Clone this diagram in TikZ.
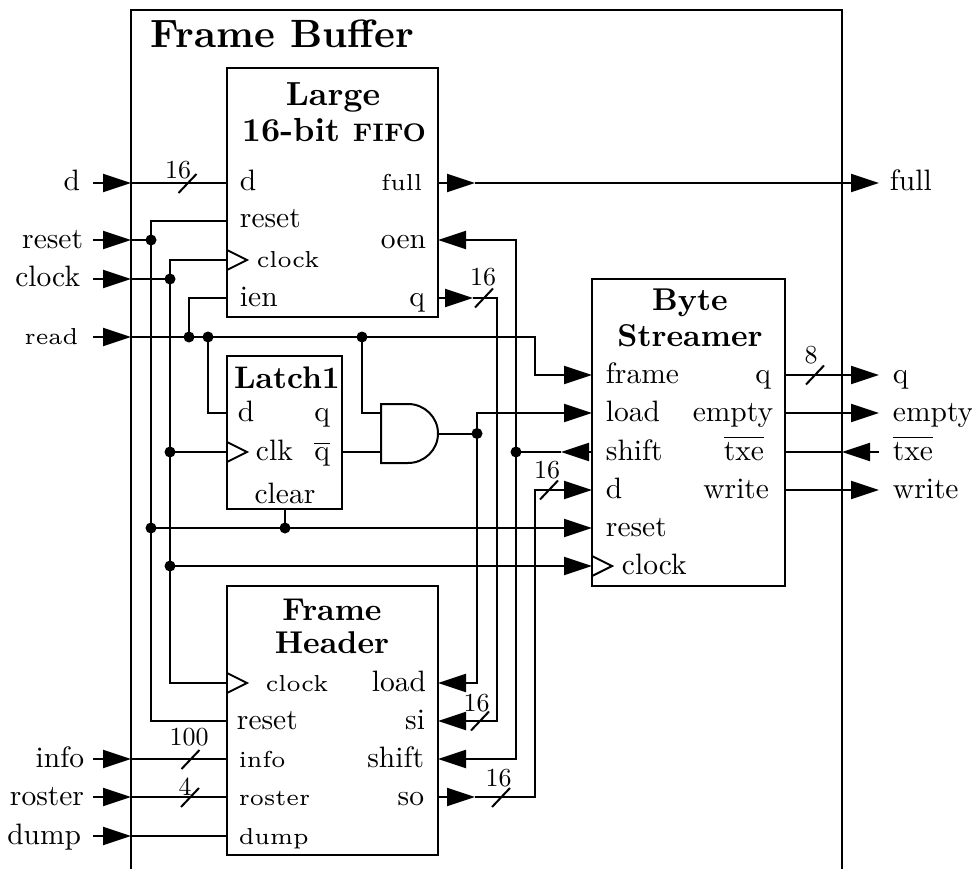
\documentclass[tikz,border=0pt]{standalone}
\usetikzlibrary{arrows.meta}
\begin{document}
\begin{tikzpicture}[x=1pt,y=-1pt,line width=2pt,
  >={Triangle[length=28pt,width=18pt]},
  lab/.style={inner sep=0,scale=2.95,font=\fontsize{10}{12}\selectfont},
  sml/.style={inner sep=0,scale=3.85,font=\fontsize{6}{7}\selectfont},
  ttl/.style={inner sep=0,scale=3.15,font=\fontsize{10}{12}\selectfont\bfseries},
  num/.style={inner sep=0,scale=2.6,font=\fontsize{10}{12}\selectfont},
  dot/.style={circle,fill,inner sep=0,minimum size=11pt},
  box/.style={draw,line width=2pt,inner sep=0}]
\useasboundingbox (0,0) rectangle (972,869);

% frame buffer boundary
\draw (131,869) -- (131,10) -- (842,10) -- (842,869);
\node[inner sep=0,scale=3.95,font=\fontsize{10}{12}\selectfont\bfseries,anchor=base west] (fbtitle) at (147,48) {Frame Buffer};

% blocks
\node[box,minimum width=211,minimum height=249] (fifo) at (332.5,192.5) {};
\node[box,minimum width=115,minimum height=153] (latch) at (284.5,432.5) {};
\node[box,minimum width=193,minimum height=307] (streamer) at (688.5,432.5) {};
\node[box,minimum width=211,minimum height=269] (header) at (332.5,720.5) {};

% titles
\node[ttl,scale=1.06,anchor=base] (t1) at (333,106) {Large};
\node[ttl,scale=1.06,anchor=base] (t2) at (334,142) {16-bit {\fontsize{7.6}{9}\selectfont FIFO}};
\node[ttl,scale=0.99,anchor=base] (t3) at (287,388) {Latch1};
\node[ttl,anchor=base] (t4) at (690,310) {Byte};
\node[ttl,anchor=base] (t5) at (690,346) {Streamer};
\node[ttl,anchor=base] (t6) at (332,620) {Frame};
\node[ttl,anchor=base] (t7) at (332,653) {Header};

% pins
\coordinate (fifo-d) at (227,183);
\coordinate (fifo-reset) at (227,221);
\coordinate (fifo-clock) at (227,260);
\coordinate (fifo-ien) at (227,298);
\coordinate (fifo-full) at (438,183);
\coordinate (fifo-oen) at (438,240);
\coordinate (fifo-q) at (438,298);
\coordinate (latch-d) at (227,413);
\coordinate (latch-clk) at (227,452);
\coordinate (latch-qb) at (342,452);
\coordinate (latch-clear) at (285,509);
\coordinate (and-a) at (381,413);
\coordinate (and-b) at (381,452);
\coordinate (and-y) at (438,433.5);
\coordinate (str-frame) at (592,375);
\coordinate (str-load) at (592,413);
\coordinate (str-shift) at (592,452);
\coordinate (str-d) at (592,490);
\coordinate (str-reset) at (592,528);
\coordinate (str-clock) at (592,566);
\coordinate (str-q) at (785,375);
\coordinate (str-empty) at (785,413);
\coordinate (str-txe) at (785,452);
\coordinate (str-write) at (785,490);
\coordinate (hdr-clock) at (227,683);
\coordinate (hdr-reset) at (227,721);
\coordinate (hdr-info) at (227,759);
\coordinate (hdr-roster) at (227,797);
\coordinate (hdr-dump) at (227,836);
\coordinate (hdr-load) at (438,683);
\coordinate (hdr-si) at (438,721);
\coordinate (hdr-shift) at (438,759);
\coordinate (hdr-so) at (438,797);

% clock triangles
\draw (227,250) -- (247,260) -- (227,270);
\draw (227,442) -- (247,452) -- (227,462);
\draw (592,556) -- (612,566) -- (592,576);
\draw (227,673) -- (247,683) -- (227,693);

% AND gate
\draw (381,404) -- (408,404) arc[start angle=-90,end angle=90,x radius=30,y radius=29.5] -- (381,463) -- cycle;

% boundary ports
\coordinate (in-d) at (93,183);      \coordinate (fb-d) at (131,183);
\coordinate (in-reset) at (93,240);  \coordinate (fb-reset) at (131,240);
\coordinate (in-clock) at (93,279);  \coordinate (fb-clock) at (131,279);
\coordinate (in-read) at (93,337);   \coordinate (fb-read) at (131,337);
\coordinate (in-info) at (93,759);   \coordinate (fb-info) at (131,759);
\coordinate (in-roster) at (93,797); \coordinate (fb-roster) at (131,797);
\coordinate (in-dump) at (93,836);   \coordinate (fb-dump) at (131,836);
\coordinate (in-txe) at (879,452);   \coordinate (fb-txe) at (842,452);
\coordinate (out-full) at (879,183);
\coordinate (out-q) at (879,375);
\coordinate (out-empty) at (879,413);
\coordinate (out-write) at (879,490);

% junction dots
\node[dot] (jr1) at (151,240) {};
\node[dot] (jr2) at (151,528) {};
\node[dot] (jclr) at (285,528) {};
\node[dot] (jc1) at (170,279) {};
\node[dot] (jc2) at (170,452) {};
\node[dot] (jc3) at (170,566) {};
\node[dot] (jd1) at (189,337) {};
\node[dot] (jd2) at (208,337) {};
\node[dot] (jd3) at (362,337) {};
\node[dot] (jand) at (477,433.5) {};
\node[dot] (jsh) at (516,452) {};

% d input
\draw[->] (in-d) -- (fb-d);
\draw (fb-d) -- (fifo-d);
\draw (187.5,183.5) +(-9,9.5) -- +(9,-9.5);
\node[num] (w1) at (178,170) {16};

% reset
\draw[->] (in-reset) -- (fb-reset);
\draw (fb-reset) -- (jr1.center);
\draw (fifo-reset) -- (151,221) -- (151,721) -- (hdr-reset);
\draw[->] (jr2.center) -- (str-reset);
\draw (latch-clear) -- (jclr.center);

% clock
\draw[->] (in-clock) -- (fb-clock);
\draw (fb-clock) -- (jc1.center);
\draw (fifo-clock) -- (170,260) -- (170,683) -- (hdr-clock);
\draw (jc2.center) -- (latch-clk);
\draw[->] (jc3.center) -- (str-clock);

% read
\draw[->] (in-read) -- (fb-read);
\draw[->] (fb-read) -- (535,337) -- (535,375) -- (str-frame);
\draw (jd1.center) -- (189,298) -- (fifo-ien);
\draw (jd2.center) -- (208,413) -- (latch-d);
\draw (jd3.center) -- (362,413) -- (and-a);
\draw (latch-qb) -- (and-b);

% and output / load
\draw (and-y) -- (jand.center);
\draw[->] (jand.center) -- (477,413) -- (str-load);
\draw[->] (jand.center) -- (477,683) -- (hdr-load);

% fifo q -> header si
\draw[->] (fifo-q) -- (473,298);
\draw[->] (473,298) -- (497,298) -- (497,721) -- (hdr-si);
\draw (484,298) +(-9,9.5) -- +(9,-9.5);
\node[num] (w2) at (483,277) {16};
\draw (480,721) +(-9,9.5) -- +(9,-9.5);
\node[num] (w3) at (476.5,703) {16};

% shift
\draw[->] (str-shift) -- (561,452);
\draw (561,452) -- (jsh.center);
\draw[->] (jsh.center) -- (516,240) -- (fifo-oen);
\draw[->] (jsh.center) -- (516,759) -- (hdr-shift);

% so -> streamer d
\draw[->] (hdr-so) -- (475,797);
\draw[->] (475,797) -- (535,797) -- (535,490) -- (str-d);
\draw (501,797.5) +(-9,9.5) -- +(9,-9.5);
\node[num] (w4) at (498.5,778) {16};
\draw (549,490) +(-9,9.5) -- +(9,-9.5);
\node[num] (w5) at (547,470) {16};

% outputs
\draw[->] (fifo-full) -- (475,183);
\draw[->] (475,183) -- (out-full);
\draw[->] (str-q) -- (out-q);
\draw (815,375) +(-9,9.5) -- +(9,-9.5);
\node[num] (w6) at (811,355.5) {8};
\draw[->] (str-empty) -- (out-empty);
\draw[->] (in-txe) -- (fb-txe);
\draw (fb-txe) -- (str-txe);
\draw[->] (str-write) -- (out-write);

% header inputs
\draw[->] (in-info) -- (fb-info);
\draw (fb-info) -- (hdr-info);
\draw (190.5,759.5) +(-9,9.5) -- +(9,-9.5);
\node[num] (w7) at (189,737.5) {100};
\draw[->] (in-roster) -- (fb-roster);
\draw (fb-roster) -- (hdr-roster);
\draw (190,797.5) +(-9,9.5) -- +(9,-9.5);
\node[num] (w8) at (185,787) {4};
\draw[->] (in-dump) -- (fb-dump);
\draw (fb-dump) -- (hdr-dump);

% fifo labels
\node[lab,anchor=base west] (l1) at (237,191) {d};
\node[lab,anchor=base west] (l2) at (237,228) {reset};
\node[sml,anchor=base west] (l3) at (253,267) {clock};
\node[lab,anchor=base west] (l4) at (237,306) {ien};
\node[sml,anchor=base east] (l5) at (426,191) {full};
\node[lab,anchor=base east] (l6) at (429,248) {oen};
\node[lab,anchor=base east] (l7) at (428,306) {q};

% latch labels
\node[lab,anchor=base west] (l8) at (235,421) {d};
\node[lab,anchor=base west] (l9) at (253,460) {clk};
\node[lab,anchor=base east] (l10) at (333,421) {q};
\node[lab,anchor=base east] (l11) at (333,460) {$\overline{\mathrm{q}}$};
\node[lab,anchor=base] (l12) at (285,503) {clear};

% streamer labels
\node[lab,anchor=base west] (l13) at (603,383) {frame};
\node[lab,anchor=base west] (l14) at (603,421) {load};
\node[lab,anchor=base west] (l15) at (603,460) {shift};
\node[lab,anchor=base west] (l16) at (603,498) {d};
\node[lab,anchor=base west] (l17) at (603,536) {reset};
\node[lab,anchor=base west] (l18) at (619,574) {clock};
\node[lab,anchor=base east] (l19) at (774,383) {q};
\node[lab,anchor=base east] (l20) at (776,421) {empty};
\node[lab,anchor=base east] (l21) at (767,460) {$\overline{\mathrm{txe}}$};
\node[lab,anchor=base east] (l22) at (772,498) {write};

% header labels
\node[sml,anchor=base west] (l23) at (262,691) {clock};
\node[lab,anchor=base west] (l24) at (234,729) {reset};
\node[sml,anchor=base west] (l25) at (235,767) {info};
\node[sml,anchor=base west] (l26) at (235,805) {roster};
\node[sml,anchor=base west] (l27) at (235,844) {dump};
\node[lab,anchor=base east] (l28) at (429,691) {load};
\node[lab,anchor=base east] (l29) at (428,729) {si};
\node[lab,anchor=base east] (l30) at (427,767) {shift};
\node[lab,anchor=base east] (l31) at (427,805) {so};

% outer left labels
\node[lab,anchor=base east] (e1) at (83,191) {d};
\node[lab,anchor=base east] (e2) at (86,248) {reset};
\node[lab,anchor=base east] (e3) at (83,287) {clock};
\node[sml,anchor=base east] (e4) at (82,344) {read};
\node[lab,anchor=base east] (e5) at (87,767) {info};
\node[lab,anchor=base east] (e6) at (87,805) {roster};
\node[lab,anchor=base east] (e7) at (84,844) {dump};

% outer right labels
\node[lab,anchor=base west] (e8) at (887,191) {full};
\node[lab,anchor=base west] (e9) at (890,383) {q};
\node[lab,anchor=base west] (e10) at (890,421) {empty};
\node[lab,anchor=base west] (e11) at (890,460) {$\overline{\mathrm{txe}}$};
\node[lab,anchor=base west] (e12) at (890,498) {write};
\end{tikzpicture}
\end{document}
